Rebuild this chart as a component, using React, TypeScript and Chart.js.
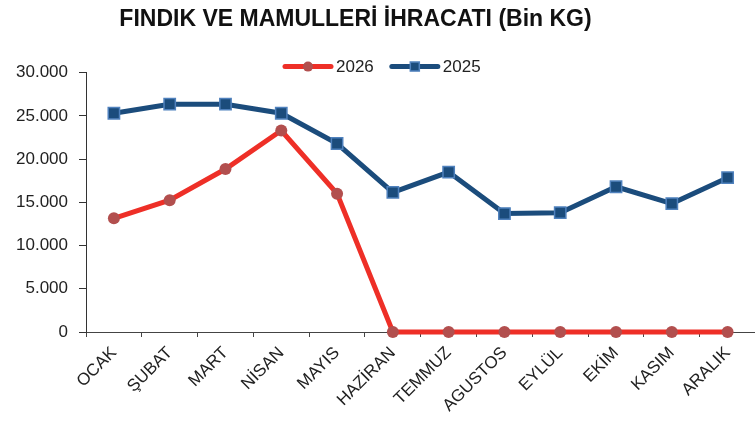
import React, { useEffect, useRef } from 'react';
import { Chart, registerables } from 'chart.js';

Chart.register(...registerables);

const TITLE = 'FINDIK VE MAMULLERİ İHRACATI (Bin KG)';
const months = ['OCAK', 'ŞUBAT', 'MART', 'NİSAN', 'MAYIS', 'HAZİRAN', 'TEMMUZ', 'AGUSTOS', 'EYLÜL', 'EKİM', 'KASIM', 'ARALIK'];
const series2026 = [13150, 15250, 18850, 23300, 16000, 0, 0, 0, 0, 0, 0, 0];
const series2025 = [25300, 26350, 26350, 25300, 21800, 16150, 18500, 13700, 13800, 16800, 14850, 17850];
const yTickLabels = ['0', '5.000', '10.000', '15.000', '20.000', '25.000', '30.000'];
const Y_MAX = 30000;
const Y_STEP = 5000;

const FONT = '"Liberation Sans", Arial, Helvetica, sans-serif';

// Legend drawn as line + marker + text, like the original spreadsheet legend
const lineLegend = {
  id: 'lineLegend',
  afterDraw(chart: any) {
    const ctx = chart.ctx;
    const area = chart.chartArea;
    const y = area.top - 6;
    let x = area.left + 197;
    chart.data.datasets.forEach((ds: any) => {
      ctx.save();
      ctx.strokeStyle = ds.borderColor;
      ctx.lineWidth = ds.borderWidth;
      ctx.lineCap = 'round';
      ctx.beginPath();
      ctx.moveTo(x + 2, y);
      ctx.lineTo(x + 48, y);
      ctx.stroke();
      ctx.fillStyle = ds.pointBackgroundColor;
      ctx.strokeStyle = ds.pointBorderColor;
      ctx.lineWidth = ds.pointBorderWidth;
      ctx.beginPath();
      if (ds.pointStyle === 'rect') {
        ctx.rect(x + 25 - 4.5, y - 4.5, 9, 9);
      } else {
        ctx.arc(x + 25, y, 5, 0, Math.PI * 2);
      }
      ctx.fill();
      if (ds.pointBorderWidth) ctx.stroke();
      ctx.fillStyle = '#222';
      ctx.font = '17px ' + FONT;
      ctx.textBaseline = 'middle';
      ctx.textAlign = 'left';
      ctx.fillText(ds.label, x + 53, y + 1);
      x += 53 + ctx.measureText(ds.label).width + 16;
      ctx.restore();
    });
  },
};

export default function App() {
  const ref = useRef<HTMLCanvasElement | null>(null);

  useEffect(() => {
    if (!ref.current) return;
    Chart.defaults.font.family = FONT;
    const chart = new Chart(ref.current, {
      type: 'line',
      data: {
        labels: months,
        datasets: [
          {
            label: '2026',
            data: series2026,
            borderColor: '#EE2F27',
            backgroundColor: '#EE2F27',
            borderWidth: 5,
            pointStyle: 'circle',
            pointRadius: 6,
            pointHoverRadius: 6,
            pointBackgroundColor: '#B24F4E',
            pointBorderColor: '#B24F4E',
            pointBorderWidth: 0,
            tension: 0,
            clip: false,
          },
          {
            label: '2025',
            data: series2025,
            borderColor: '#1B4C7C',
            backgroundColor: '#1B4C7C',
            borderWidth: 5,
            pointStyle: 'rect',
            pointRadius: 8,
            pointHoverRadius: 8,
            pointBackgroundColor: '#1B4C7C',
            pointBorderColor: '#4F81BD',
            pointBorderWidth: 1.5,
            tension: 0,
            clip: false,
          },
        ],
      },
      options: {
        responsive: false,
        animation: false,
        devicePixelRatio: 1,
        layout: { padding: 0 },
        plugins: {
          legend: { display: false },
          tooltip: { enabled: false },
          title: {
            display: true,
            text: TITLE,
            color: '#111',
            font: { size: 23, weight: 'bold', family: FONT },
            padding: { top: 6, bottom: 39 },
          },
        },
        scales: {
          x: {
            offset: true,
            grid: {
              offset: true,
              drawOnChartArea: false,
              drawTicks: true,
              tickLength: 5,
              color: '#444',
            },
            border: { color: '#444', width: 1 },
            ticks: {
              autoSkip: false,
              maxRotation: 45,
              minRotation: 45,
              padding: 6,
              color: '#222',
              font: { size: 17, family: FONT },
            },
            afterFit: (s: any) => {
              s.height = 90;
            },
          },
          y: {
            min: 0,
            max: Y_MAX,
            ticks: {
              stepSize: Y_STEP,
              padding: 11,
              color: '#222',
              font: { size: 17, family: FONT },
              callback: (_v: any, i: number) => yTickLabels[i],
            },
            grid: {
              drawOnChartArea: false,
              drawTicks: true,
              tickLength: 7,
              color: '#333',
            },
            border: { color: '#333', width: 1 },
            afterFit: (s: any) => {
              s.width = 140;
            },
          },
        },
      },
      plugins: [lineLegend],
    });
    return () => chart.destroy();
  }, []);

  return (
    <div style={{ position: 'fixed', left: 0, top: 0, width: 755, height: 422, overflow: 'hidden', background: '#fff' }}>
      <canvas ref={ref} width={819} height={422} style={{ position: 'absolute', left: -54, top: 0 }} />
    </div>
  );
}
